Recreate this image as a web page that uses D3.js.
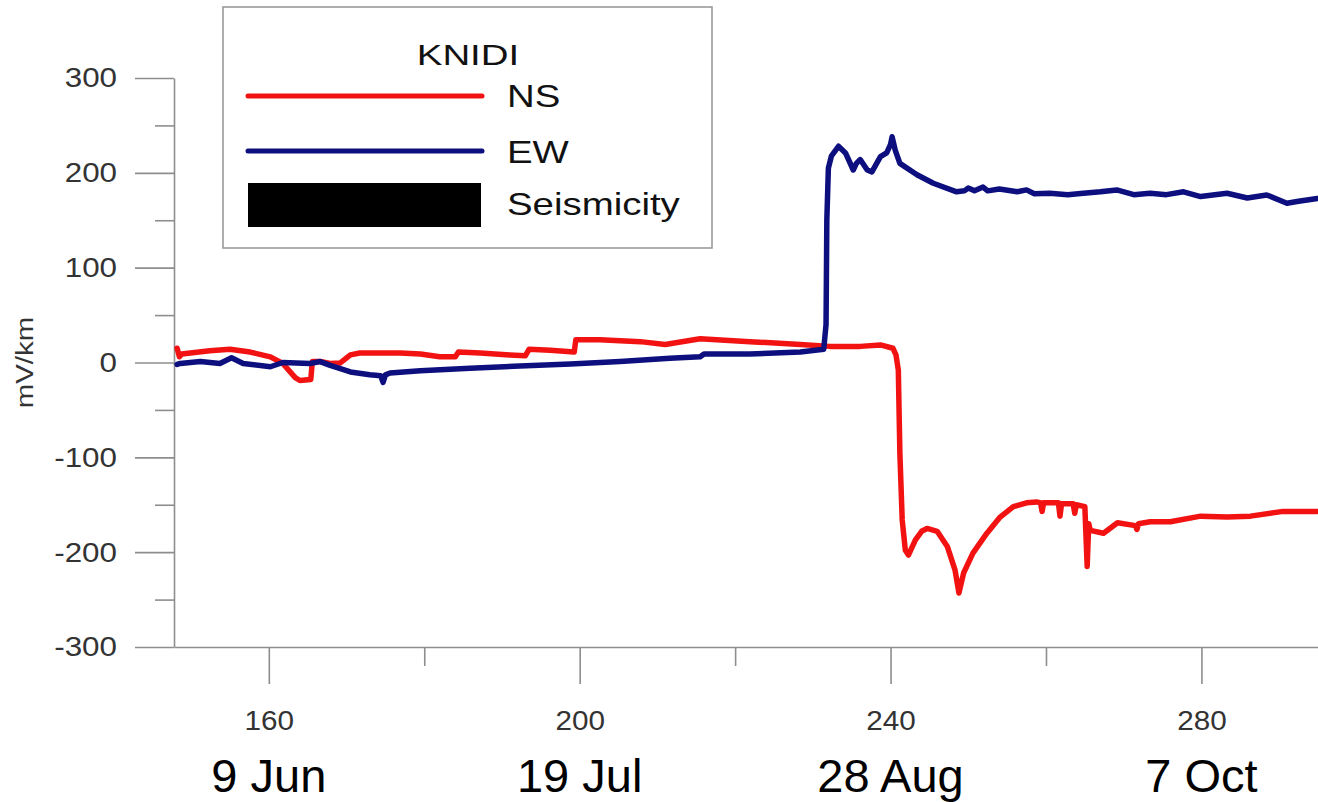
<!DOCTYPE html>
<html>
<head>
<meta charset="utf-8">
<script src="https://cdn.jsdelivr.net/npm/d3@7"></script>
<style>
  html, body { margin: 0; padding: 0; background: #fff; }
  svg { display: block; font-family: "Liberation Sans", Arial, sans-serif; }
</style>
</head>
<body>
<svg id="chart" width="1318" height="802"></svg>
<script>
// NS component of the electric field (day of year, mV/km)
const nsDay = [148.2, 148.5, 148.8, 149.9, 152.4, 155.0, 157.6, 160.2, 161.8, 163.4, 164.0, 165.4, 165.6, 166.6, 167.9, 169.2, 170.5, 171.7, 174.3, 176.9, 179.5, 182.0, 184.0, 184.4, 187.2, 191.0, 193.0, 193.5, 196.2, 199.3, 199.5, 202.6, 207.8, 211.0, 215.5, 221.9, 228.4, 232.2, 236.1, 238.7, 240.3, 240.7, 241.0, 241.2, 241.5, 241.9, 242.3, 242.7, 243.2, 244.0, 244.7, 246.0, 247.3, 248.3, 248.8, 249.4, 250.6, 252.4, 254.1, 255.8, 257.5, 258.8, 259.3, 259.5, 259.7, 261.6, 261.8, 262.0, 263.5, 263.7, 263.9, 265.0, 265.3, 265.5, 265.7, 267.4, 269.2, 271.5, 271.7, 271.9, 273.4, 276.0, 279.9, 283.3, 286.3, 290.5, 294.9];
const nsVal = [15, 6, 9, 10, 12.5, 14, 11, 6, -1, -16, -19, -18, 1, 1, -1, -0.5, 8, 10, 10, 10, 9, 6, 6, 11, 10, 8, 7, 14, 13, 11, 24, 24, 22, 19, 25, 22, 19, 17, 17, 18.5, 15, 8, -8, -96, -166, -198, -203, -196, -187, -178, -175, -178, -194, -219, -243, -222, -201, -180, -163, -152, -148, -147, -148, -157, -148, -148, -162, -149, -149, -159, -150, -152, -215, -170, -177, -180, -169, -172, -176, -170, -168, -168, -162, -163, -162, -157, -157];

// EW component of the electric field (day of year, mV/km)
const ewDay = [148.2, 148.6, 151.2, 153.7, 155.2, 156.7, 160.2, 161.8, 165.3, 166.6, 167.9, 170.5, 173.0, 174.4, 174.7, 175.0, 175.6, 179.5, 185.9, 192.3, 198.8, 205.2, 211.6, 215.5, 216.0, 221.9, 228.4, 231.4, 231.7, 231.8, 232.0, 232.4, 233.3, 234.2, 235.2, 235.6, 236.1, 237.0, 237.6, 238.7, 239.5, 240.0, 240.2, 240.6, 241.2, 243.4, 245.5, 248.5, 249.5, 250.0, 250.8, 251.9, 252.5, 254.0, 256.3, 257.5, 258.5, 260.5, 262.8, 264.8, 267.0, 269.1, 271.3, 273.4, 275.5, 277.7, 279.9, 283.3, 285.9, 288.4, 291.0, 292.5, 294.9];
const ewVal = [-2, -1, 1, -1, 5, -1, -4.5, 0, -1, 1, -3, -10, -13, -14, -21, -13, -11, -8.6, -6, -3.7, -1.6, 1, 4.5, 6, 9, 9, 11, 14, 40, 150, 205, 218, 228, 221, 203, 210, 214, 203, 201, 217, 221, 230, 238, 224, 210, 198, 189, 180, 181, 184, 181, 185, 181, 183, 180, 182, 178, 178.5, 177, 178.5, 180, 182, 177, 178.5, 177, 180, 175, 178.5, 173.5, 176.7, 168, 170, 173];

// Axis ticks and labels
const yMajorTicks = [-300, -200, -100, 0, 100, 200, 300];
const yMinorTicks = [-250, -150, -50, 50, 150, 250];
const xMajorTicks = [160, 200, 240, 280];
const xMinorTicks = [180, 220, 260];
const dateDays = [160, 200, 240, 280];
const dateLabels = ["9 Jun", "19 Jul", "28 Aug", "7 Oct"];
const legendTitle = "KNIDI";
const seriesNames = ["NS", "EW", "Seismicity"];
const yTitle = "mV/km";

const svg = d3.select("#chart");
const axisColor = "#8e8e8e";
const labelColor = "#333";
const nsColor = "#f21212";
const ewColor = "#0d0f7e";

const x = d3.scaleLinear().domain([147.8, 295]).range([174, 1318]);
const y = d3.scaleLinear().domain([-300, 300]).range([647, 78]);

// Widen glyphs horizontally while keeping the text anchor
function stretch(sel, sx) {
  sel.each(function () {
    const w = this.getComputedTextLength();
    d3.select(this).attr("textLength", w * sx).attr("lengthAdjust", "spacingAndGlyphs");
  });
}

// Plain hyphen for negative numbers
const plain = d => String(d);

svg.append("defs").append("clipPath").attr("id", "plotClip")
  .append("rect").attr("x", 174).attr("y", 60).attr("width", 1144).attr("height", 600);

// Y axis: major ticks with labels, minor ticks without
const yAxis = svg.append("g").attr("transform", `translate(${x.range()[0]},0)`)
  .call(d3.axisLeft(y).tickValues(yMajorTicks).tickSize(39).tickSizeOuter(0).tickPadding(18).tickFormat(plain));
svg.append("g").attr("transform", `translate(${x.range()[0]},0)`)
  .call(d3.axisLeft(y).tickValues(yMinorTicks).tickSize(19).tickSizeOuter(0).tickFormat(""))
  .select(".domain").remove();

// X axis
const xAxis = svg.append("g").attr("transform", `translate(0,${y.range()[0]})`)
  .call(d3.axisBottom(x).tickValues(xMajorTicks).tickSize(37).tickSizeOuter(0).tickPadding(26).tickFormat(plain));
svg.append("g").attr("transform", `translate(0,${y.range()[0]})`)
  .call(d3.axisBottom(x).tickValues(xMinorTicks).tickSize(19).tickSizeOuter(0).tickFormat(""))
  .select(".domain").remove();

svg.selectAll(".domain, .tick line").attr("stroke", axisColor).attr("stroke-width", 1.6);
svg.selectAll(".tick text").attr("fill", labelColor).attr("font-size", 28)
  .attr("font-family", "'Liberation Sans', Arial, sans-serif");
stretch(yAxis.selectAll(".tick text"), 1.12);
stretch(xAxis.selectAll(".tick text"), 1.06);

// Y axis title
const yt = svg.append("text")
  .attr("transform", `translate(33,${y(0)}) rotate(-90)`)
  .attr("text-anchor", "middle").attr("font-size", 23).attr("fill", labelColor)
  .text(yTitle);
stretch(yt, 1.28);

// Calendar dates under the day-of-year axis
svg.append("g").selectAll("text").data(dateDays).join("text")
  .attr("x", d => x(d)).attr("y", 792)
  .attr("text-anchor", "middle").attr("font-size", 47).attr("fill", "#000")
  .text((d, i) => dateLabels[i]);

// Field traces
const line = d3.line().x(d => x(d[0])).y(d => y(d[1]));
const plot = svg.append("g").attr("clip-path", "url(#plotClip)");
plot.append("path").datum(nsDay.map((d, i) => [d, nsVal[i]]))
  .attr("d", line).attr("fill", "none").attr("stroke", nsColor)
  .attr("stroke-width", 5.5).attr("stroke-linejoin", "round").attr("stroke-linecap", "round");
plot.append("path").datum(ewDay.map((d, i) => [d, ewVal[i]]))
  .attr("d", line).attr("fill", "none").attr("stroke", ewColor)
  .attr("stroke-width", 5.5).attr("stroke-linejoin", "round").attr("stroke-linecap", "round");

// Legend
const lg = svg.append("g");
lg.append("rect").attr("x", 223).attr("y", 7).attr("width", 489).attr("height", 241)
  .attr("fill", "#fff").attr("stroke", "#9a9a9a").attr("stroke-width", 1.6);
const lt = lg.append("text").attr("x", 468).attr("y", 65).attr("text-anchor", "middle")
  .attr("font-size", 30).attr("fill", "#111").text(legendTitle);
stretch(lt, 1.28);
lg.append("line").attr("x1", 248).attr("x2", 482).attr("y1", 96).attr("y2", 96)
  .attr("stroke", nsColor).attr("stroke-width", 5).attr("stroke-linecap", "round");
lg.append("line").attr("x1", 248).attr("x2", 482).attr("y1", 151).attr("y2", 151)
  .attr("stroke", ewColor).attr("stroke-width", 5).attr("stroke-linecap", "round");
lg.append("rect").attr("x", 248).attr("y", 183).attr("width", 233).attr("height", 44).attr("fill", "#000");
const entryY = [107, 163, 215];
const et = lg.selectAll("text.entry").data(seriesNames).join("text").attr("class", "entry")
  .attr("x", 507).attr("y", (d, i) => entryY[i])
  .attr("font-size", 32).attr("fill", "#111").text(d => d);
stretch(et, 1.2);
</script>
</body>
</html>
